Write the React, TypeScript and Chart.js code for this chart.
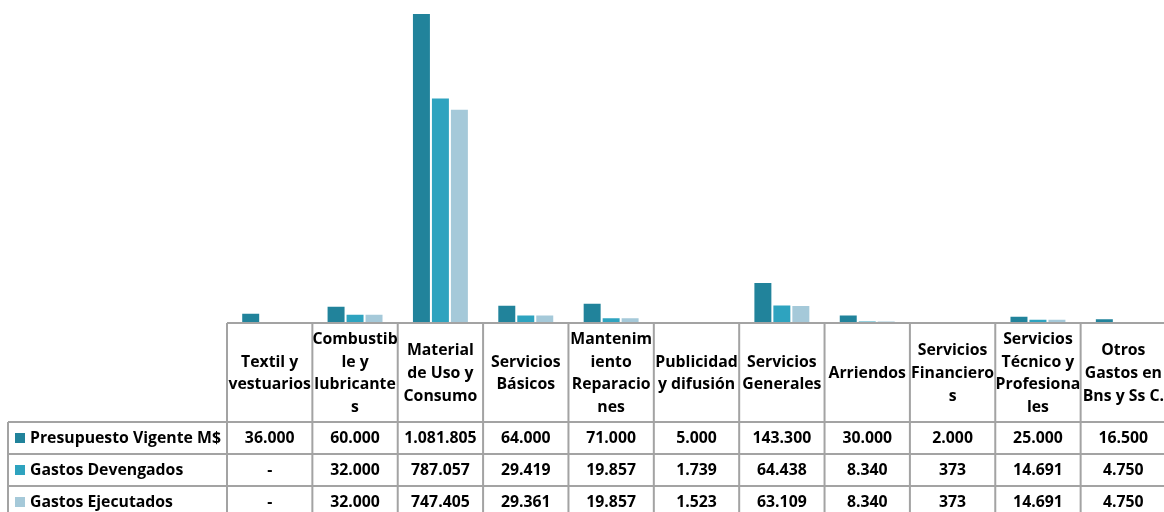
import React, { useEffect, useRef } from "react";
import { Chart, registerables } from "chart.js";

Chart.register(...registerables);

const categories: string[][] = [
  ["Textil y", "vestuarios"],
  ["Combustib", "le y", "lubricante", "s"],
  ["Material", "de Uso y", "Consumo"],
  ["Servicios", "Básicos"],
  ["Mantenim", "iento", "Reparacio", "nes"],
  ["Publicidad", "y difusión"],
  ["Servicios", "Generales"],
  ["Arriendos"],
  ["Servicios", "Financiero", "s"],
  ["Servicios", "Técnico y", "Profesiona", "les"],
  ["Otros", "Gastos en", "Bns y Ss C."],
];

const seriesNames = ["Presupuesto Vigente M$", "Gastos Devengados", "Gastos Ejecutados"];
const presupuesto = [36000, 60000, 1081805, 64000, 71000, 5000, 143300, 30000, 2000, 25000, 16500];
const devengados = [0, 32000, 787057, 29419, 19857, 1739, 64438, 8340, 373, 14691, 4750];
const ejecutados = [0, 32000, 747405, 29361, 19857, 1523, 63109, 8340, 373, 14691, 4750];
const colors = ["#21839b", "#2ea3bf", "#a5c9d9"];

const FONT = "bold 15.8px 'Open Sans', sans-serif";
const GRID = "#a3a3a3";

function fmt(n: number): string {
  if (!n) return "-";
  return String(n).replace(/\B(?=(\d{3})+(?!\d))/g, ".");
}

const tablePlugin = {
  id: "dataTable",
  afterDraw(chart: any) {
    const ctx = chart.ctx as CanvasRenderingContext2D;
    const xs = chart.scales.x;
    const area = chart.chartArea;
    const n = categories.length;
    const colW = (xs.right - xs.left) / n;
    const top = area.bottom;
    const headerBottom = top + 99;
    const rowH = 32;
    const rows = [presupuesto, devengados, ejecutados];
    const leftX = 8;
    const rightX = chart.width;
    ctx.save();
    ctx.strokeStyle = GRID;
    ctx.lineWidth = 2;
    ctx.beginPath();
    ctx.moveTo(xs.left, top);
    ctx.lineTo(rightX, top);
    for (let r = 0; r <= 3; r++) {
      const y = headerBottom + r * rowH;
      ctx.moveTo(leftX, y);
      ctx.lineTo(rightX, y);
    }
    for (let i = 0; i <= n; i++) {
      const x = xs.left + i * colW;
      ctx.moveTo(x, top);
      ctx.lineTo(x, headerBottom + 3 * rowH + 10);
    }
    ctx.moveTo(leftX, headerBottom);
    ctx.lineTo(leftX, headerBottom + 3 * rowH + 10);
    ctx.stroke();

    ctx.fillStyle = "#000";
    ctx.font = FONT;
    ctx.textAlign = "center";
    ctx.textBaseline = "middle";
    const lh = 22.7;
    const hc = (top + headerBottom) / 2 + 1;
    categories.forEach((lines, i) => {
      const cx = xs.getPixelForValue(i);
      const y0 = hc - ((lines.length - 1) * lh) / 2;
      lines.forEach((l, k) => ctx.fillText(l, cx, y0 + k * lh));
      rows.forEach((arr, r) => {
        ctx.fillText(fmt(arr[i]), cx, headerBottom + r * rowH + rowH / 2);
      });
    });
    ctx.textAlign = "left";
    seriesNames.forEach((name, r) => {
      const cy = headerBottom + r * rowH + rowH / 2;
      ctx.fillStyle = colors[r];
      ctx.fillRect(15, cy - 5, 10, 10);
      ctx.fillStyle = "#000";
      ctx.fillText(name, 30, cy);
    });
    ctx.restore();
  },
};

export default function App() {
  const ref = useRef<HTMLCanvasElement | null>(null);
  useEffect(() => {
    if (!ref.current) return;
    const chart = new Chart(ref.current, {
      type: "bar",
      data: {
        labels: categories.map((c) => c.join(" ")),
        datasets: [presupuesto, devengados, ejecutados].map((d, i) => ({
          label: seriesNames[i],
          data: d,
          backgroundColor: colors[i],
          borderColor: "rgba(255,255,255,0.55)",
          borderWidth: 1,
          categoryPercentage: 0.667,
          barPercentage: 1,
        })),
      },
      options: {
        responsive: false,
        animation: false,
        layout: { padding: { left: 227, right: 0, top: 0, bottom: 189 } },
        plugins: { legend: { display: false }, tooltip: { enabled: false } },
        scales: {
          x: { display: false },
          y: { display: false, min: 0, max: 1127000 },
        },
      },
      plugins: [tablePlugin],
    });
    return () => chart.destroy();
  }, []);
  return (
    <div style={{ position: "fixed", left: 0, top: 0, width: 1164, height: 512, overflow: "hidden", background: "#fff" }}>
      <canvas ref={ref} width={1166} height={512} style={{ width: 1166, height: 512, display: "block" }} />
    </div>
  );
}
